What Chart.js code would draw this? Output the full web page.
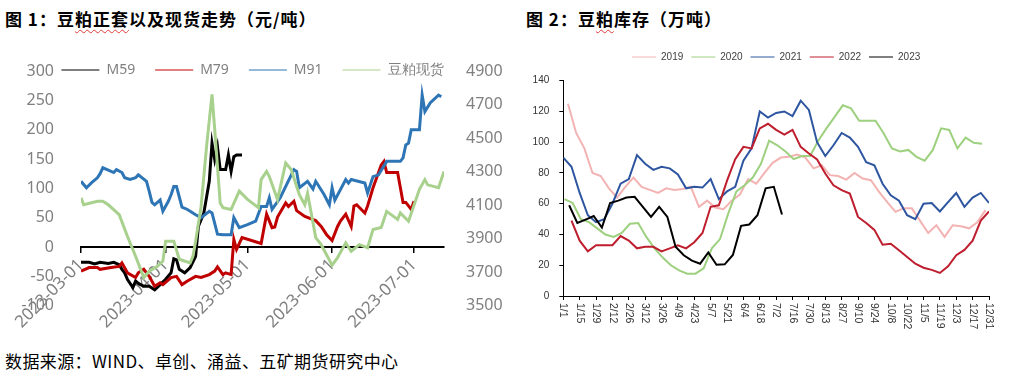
<!DOCTYPE html>
<html><head><meta charset="utf-8">
<script src="https://cdn.jsdelivr.net/npm/chart.js@4.4.0/dist/chart.umd.min.js"></script>
<style>
html,body{margin:0;padding:0;background:#fff;width:1009px;height:379px;overflow:hidden;}
.t{position:absolute;font-family:"Noto Sans CJK SC";font-weight:700;font-size:17px;letter-spacing:1px;color:#000;white-space:nowrap;line-height:1;}
.w{text-decoration:underline wavy #e03a3a;text-decoration-thickness:1px;text-underline-offset:3px;}
.f{position:absolute;left:5px;top:352px;font-family:"Noto Sans CJK SC";font-size:17px;letter-spacing:0.4px;color:#000;white-space:nowrap;line-height:1;}
#w1{position:absolute;left:0;top:27px;width:505px;height:316px;}
#w2{position:absolute;left:505px;top:44px;width:504px;height:296px;}
</style></head>
<body>
<div class="t" style="left:5px;top:10px;">图 1：豆<span class="w">粕正套</span>以及现货走势（元/吨）</div>
<div class="t" style="left:526px;top:10px;">图 2：豆<span class="w">粕</span>库存（万吨）</div>
<div id="w1"><canvas id="c1" width="505" height="316"></canvas></div>
<div id="w2"><canvas id="c2" width="504" height="296"></canvas></div>
<div class="f">数据来源：WIND、卓创、涌益、五矿期货研究中心</div>
<script>
// ---------- Chart 1 data (day 0 = 2023-03-01) ----------
const monthTickDays = [0, 31, 61, 92, 122];
const monthTickLabels = ['2023-03-01', '2023-04-01', '2023-05-01', '2023-06-01', '2023-07-01'];

const m59Days = [0,3,5,7,10,12,14,15,16,17,19,20,21,23,25,27,29,31,33,34,35,36,38,40,42,43,45,46,47,48,49,50,51,53,54,55,56,57,59];
const m59Vals = [-26,-26,-29,-26,-28,-26,-30,-38,-44,-55,-69,-58,-62,-67,-67,-73,-64,-55,-44,-20,-22,-38,-44,-35,-16,35,58,85,112,177,149,171,132,132,157,129,154,157,157];

const m79Days = [0,3,6,7,11,14,15,17,20,21,23,25,27,29,30,33,35,37,39,42,44,47,49,50,52,53,55,56,57,59,66,68,70,71,72,75,76,78,79,82,86,88,90,92,94,95,97,99,100,101,104,105,107,110,111,112,116,118,119,121,122];
const m79Vals = [-41,-35,-35,-38,-35,-33,-27,-44,-52,-44,-38,-50,-67,-61,-64,-52,-50,-64,-58,-50,-52,-47,-41,-34,-47,-44,-47,13,-4,16,6,56,33,34,51,75,69,78,62,52,45,35,21,11,35,44,56,35,70,72,58,70,101,140,146,127,127,76,76,64,78];

const m91Days = [0,2,4,6,7,8,10,12,13,15,16,18,20,21,24,25,26,27,28,29,30,32,33,34,35,37,39,42,44,47,48,50,52,55,56,58,61,64,66,68,69,70,73,78,79,80,83,85,86,89,91,92,93,97,98,99,104,105,107,109,112,117,118,119,120,121,124,125,126,128,131,132];
const m91Vals = [112,101,110,118,125,135,131,127,132,127,118,115,118,123,112,95,76,72,76,80,61,78,89,103,103,68,64,55,50,61,58,22,21,21,50,33,38,44,69,69,84,64,84,132,129,101,112,99,112,90,72,101,80,115,109,115,109,92,120,123,146,146,152,174,177,200,200,259,231,246,259,256];

const spotDays = [0,1,6,8,10,14,17,20,23,25,28,30,31,34,36,40,41,42,44,46,48,49,51,52,55,58,61,65,66,68,69,72,75,77,80,82,83,86,88,92,94,97,99,102,105,107,110,112,116,117,120,124,126,127,131,133];
const spotVals = [4144,4102,4123,4123,4102,4043,3914,3795,3668,3706,3735,3766,3885,3885,3777,3755,3794,3885,4092,4449,4760,4550,4112,4085,4074,4183,4134,4085,4252,4301,4270,4133,4351,4312,4162,4102,4171,3906,3864,3742,3787,3875,3825,3864,3846,3955,3966,4063,4015,4053,4004,4194,4252,4221,4204,4301];

// ---------- Chart 2 data (day 0 = 1/1, weekly points) ----------
const weekTickDays = [0,14,28,42,56,70,84,98,112,126,140,154,168,182,196,210,224,238,252,266,280,294,308,322,336,350,364];
const weekTickLabels = ['1/1','1/15','1/29','2/12','2/26','3/12','3/26','4/9','4/23','5/7','5/21','6/4','6/18','7/2','7/16','7/30','8/13','8/27','9/10','9/24','10/8','10/22','11/5','11/19','12/3','12/17','12/31'];

const start2019 = 4;
const inv2019 = [125,106,96,80,78,70,64,71,77,71,69,67,70,69,69.5,71,58,62,57.5,56.5,62,66,76,73,80,86.6,90,90.5,92,90,83,85,78.6,78,75.7,80,76.4,75.3,67.7,61,54.7,57,57,49,41,46,38.4,46,45.4,44,48,55.8];
const start2020 = 1;
const inv2020 = [63,60.5,50,48,44,40,38.4,41,47,47.5,38.4,31,25,20,16.7,14.5,14.5,18,31,37,53.6,68,72,77,86,101,98,94,89,91,91,101,109,116.5,124,122,114,114,114,105.7,96,94,95,90.5,88,95,109,108,96,103,99.6,99];
const start2021 = 0;
const inv2021 = [90,84,67,52.5,48,50,60,73,76,91.6,86,82,84,83,79,70,71,70.5,76,63,68,71,88,96,120,116,119,120,117,127,121,100,91,98,106,103,97,87,85,73,65.5,62,52.5,50,60,60.5,55,61,67,58,64,67,60.5];
const start2022 = 7;
const inv2022 = [49,36,29,33,33,33,39,36,31,32,32,29,31,33,31,35,41,58,59,75,89,97,96,109,112,108,105,108,97,92.7,88.8,79.6,72,68.8,66.6,51.4,47.5,43,33.4,34,29.7,25.4,21,18.4,17,15,19.3,26.5,30,36,49,55];
const start2023 = 5;
const inv2023 = [59,47.5,49.7,52,44.5,60.5,62,64,64.5,58,51.4,58,51.4,32,26.5,23,21,28.3,20.3,20.6,26.7,45.6,46.5,52.5,70,71,53];

// ---------- helpers ----------
const pts = (d, v) => d.map((x, i) => ({x: x, y: v[i]}));
const weekly = (s, v) => v.map((y, i) => ({x: s + 7 * i, y: y}));
const gray = '#808080';
const f1 = {family: 'Noto Sans', size: 16};

// legend sits level with the top of the plot, as in the reference
const shiftLegend = {
  id: 'shiftLegend',
  afterLayout(chart) { const l = chart.legend; l.top += 16; l.bottom += 16; }
};

// ---------- Chart 1 ----------
new Chart(document.getElementById('c1'), {
  type: 'line',
  data: {datasets: [
    {label: 'M59', data: pts(m59Days, m59Vals), borderColor: '#000000', backgroundColor: '#000000', yAxisID: 'y', order: 4},
    {label: 'M79', data: pts(m79Days, m79Vals), borderColor: '#C00000', backgroundColor: '#C00000', yAxisID: 'y', order: 3},
    {label: 'M91', data: pts(m91Days, m91Vals), borderColor: '#2E75B6', backgroundColor: '#2E75B6', yAxisID: 'y', order: 2},
    {label: '豆粕现货', data: pts(spotDays, spotVals), borderColor: '#A9D18E', backgroundColor: '#A9D18E', yAxisID: 'y1', order: 1}
  ]},
  plugins: [shiftLegend],
  options: {
    responsive: false, animation: false,
    elements: {point: {radius: 0}, line: {borderWidth: 3, tension: 0}},
    layout: {padding: {top: 0, bottom: 37.3, left: 0, right: 0}},
    plugins: {
      legend: {position: 'top',
        labels: {usePointStyle: true, pointStyle: 'line', pointStyleWidth: 38, padding: 20, color: gray,
          font: {family: 'Noto Sans', size: 14}, sort: (a, b) => a.datasetIndex - b.datasetIndex}},
      tooltip: {enabled: false}
    },
    scales: {
      x: {type: 'linear', position: {y: 0}, min: 0, max: 133,
        afterBuildTicks: s => { s.ticks = monthTickDays.map(v => ({value: v})); },
        ticks: {autoSkip: false, minRotation: 45, maxRotation: 45, color: gray, font: {family: 'Noto Sans', size: 17},
          callback: v => monthTickLabels[monthTickDays.indexOf(v)]},
        grid: {display: true, drawOnChartArea: false, drawTicks: true, tickLength: 5, color: '#000', lineWidth: 1.5},
        border: {display: true, color: '#000', width: 2}},
      y: {position: 'left', min: -100, max: 300,
        ticks: {stepSize: 50, padding: 19, color: gray, font: f1, callback: v => String(v)},
        grid: {display: false}, border: {display: false},
        afterFit: s => { s.width = 81; }},
      y1: {position: 'right', min: 3500, max: 4900,
        ticks: {stepSize: 200, padding: 14, color: gray, font: f1, callback: v => String(v)},
        grid: {display: false}, border: {display: false},
        afterFit: s => { s.width = 61; }}
    }
  }
});

// ---------- Chart 2 ----------
const rotLabels = {
  id: 'rotLabels',
  afterDraw(chart) {
    const s = chart.scales.x, ctx = chart.ctx;
    ctx.save();
    ctx.font = '10.5px "Liberation Sans"';
    ctx.fillStyle = '#333';
    ctx.textAlign = 'left';
    ctx.textBaseline = 'middle';
    s.ticks.forEach(t => {
      const x = s.getPixelForValue(t.value);
      ctx.save();
      ctx.translate(x, s.top + 7);
      ctx.rotate(Math.PI / 2);
      ctx.fillText(weekTickLabels[weekTickDays.indexOf(t.value)], 0, 0);
      ctx.restore();
    });
    ctx.restore();
  }
};
const f2 = {family: 'Liberation Sans', size: 10};
new Chart(document.getElementById('c2'), {
  type: 'line',
  data: {datasets: [
    {label: '2019', data: weekly(start2019, inv2019), borderColor: '#F4B3B3', order: 5},
    {label: '2020', data: weekly(start2020, inv2020), borderColor: '#9DD07F', order: 4},
    {label: '2021', data: weekly(start2021, inv2021), borderColor: '#2E55A0', order: 3},
    {label: '2022', data: weekly(start2022, inv2022), borderColor: '#BE1E2D', order: 2},
    {label: '2023', data: weekly(start2023, inv2023), borderColor: '#000000', order: 1}
  ]},
  plugins: [rotLabels],
  options: {
    responsive: false, animation: false,
    elements: {point: {radius: 0}, line: {borderWidth: 2, tension: 0}},
    layout: {padding: {top: 0, bottom: 0, left: 0, right: 20}},
    plugins: {
      legend: {position: 'top', fullSize: false, weight: 1000,
        labels: {usePointStyle: true, pointStyle: 'line', pointStyleWidth: 24, padding: 8, color: '#404040',
          font: f2, sort: (a, b) => a.datasetIndex - b.datasetIndex}},
      title: {display: true, text: '', position: 'top', fullSize: false, weight: 100, padding: 0,
        font: {size: 8.7, lineHeight: 1}},
      tooltip: {enabled: false}
    },
    scales: {
      x: {type: 'linear', min: 0, max: 364,
        afterBuildTicks: s => { s.ticks = weekTickDays.map(v => ({value: v})); },
        ticks: {autoSkip: false, minRotation: 90, maxRotation: 90, color: 'rgba(0,0,0,0)', font: {family: 'Liberation Sans', size: 10.5},
          callback: v => weekTickLabels[weekTickDays.indexOf(v)]},
        grid: {display: true, drawOnChartArea: false, drawTicks: true, tickLength: 4, color: '#000', lineWidth: 1},
        border: {display: true, color: '#000', width: 1},
        afterFit: s => { s.height = 44; }},
      y: {min: 0, max: 140,
        ticks: {stepSize: 20, padding: 10, color: '#333', font: f2},
        grid: {display: true, drawOnChartArea: false, drawTicks: true, tickLength: 4, color: '#000', lineWidth: 1},
        border: {display: true, color: '#000', width: 1},
        afterFit: s => { s.width = 58.3; }}
    }
  }
});
</script>
</body></html>
